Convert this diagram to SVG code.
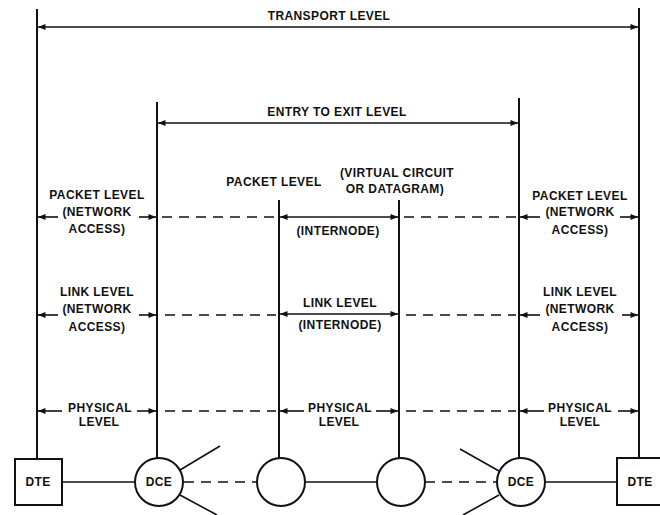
<svg xmlns="http://www.w3.org/2000/svg" width="660" height="515" viewBox="0 0 660 515">
<style>
text{font-family:"Liberation Sans",Arial,sans-serif;font-size:12px;letter-spacing:0.4px;font-weight:bold;fill:#111;text-anchor:middle}
.v{stroke:#111;stroke-width:2;fill:none}
.s{stroke:#111;stroke-width:1.6;fill:none}
.d{stroke:#111;stroke-width:1.6;fill:none;stroke-dasharray:10 7}
.node{stroke:#111;stroke-width:2;fill:#fff}
</style>
<defs>
<marker id="ah" viewBox="0 0 10 8" refX="10" refY="4" markerWidth="8" markerHeight="6" markerUnits="userSpaceOnUse" orient="auto-start-reverse">
<path d="M0,0 L10,4 L0,8 Z" fill="#111"/>
</marker>
</defs>
<rect width="660" height="515" fill="#fff"/>
<g id="connectors">
<line class="v" x1="37" y1="9" x2="37" y2="459"/>
<line class="v" x1="639" y1="8" x2="639" y2="458"/>
<line class="v" x1="157" y1="102" x2="157" y2="458"/>
<line class="v" x1="519" y1="98" x2="519" y2="458"/>
<line class="v" x1="279" y1="200" x2="279" y2="458"/>
<line class="v" x1="399" y1="200" x2="399" y2="458"/>
<line class="s" x1="38" y1="27" x2="638" y2="27" marker-start="url(#ah)" marker-end="url(#ah)"/>
<line class="s" x1="158" y1="123" x2="518" y2="123" marker-start="url(#ah)" marker-end="url(#ah)"/>
<line class="s" x1="38" y1="217" x2="58" y2="217" marker-start="url(#ah)"/>
<line class="s" x1="139" y1="217" x2="156" y2="217" marker-end="url(#ah)"/>
<line class="d" x1="162" y1="217" x2="276" y2="217"/>
<line class="s" x1="280" y1="217" x2="398" y2="217" marker-start="url(#ah)" marker-end="url(#ah)"/>
<line class="d" x1="404" y1="217" x2="516" y2="217"/>
<line class="s" x1="520" y1="217" x2="540" y2="217" marker-start="url(#ah)"/>
<line class="s" x1="620" y1="217" x2="638" y2="217" marker-end="url(#ah)"/>
<line class="s" x1="38" y1="315" x2="58" y2="315" marker-start="url(#ah)"/>
<line class="s" x1="139" y1="315" x2="156" y2="315" marker-end="url(#ah)"/>
<line class="d" x1="165" y1="315" x2="276" y2="315"/>
<line class="s" x1="280" y1="314" x2="398" y2="314" marker-start="url(#ah)" marker-end="url(#ah)"/>
<line class="d" x1="406" y1="315" x2="516" y2="315"/>
<line class="s" x1="520" y1="315" x2="540" y2="315" marker-start="url(#ah)"/>
<line class="s" x1="622" y1="315" x2="638" y2="315" marker-end="url(#ah)"/>
<line class="s" x1="38" y1="411" x2="62" y2="411" marker-start="url(#ah)"/>
<line class="s" x1="137" y1="411" x2="156" y2="411" marker-end="url(#ah)"/>
<line class="d" x1="165" y1="411" x2="276" y2="411"/>
<line class="s" x1="280" y1="411" x2="304" y2="411" marker-start="url(#ah)"/>
<line class="s" x1="376" y1="411" x2="398" y2="411" marker-end="url(#ah)"/>
<line class="d" x1="406" y1="411" x2="516" y2="411"/>
<line class="s" x1="520" y1="411" x2="544" y2="411" marker-start="url(#ah)"/>
<line class="s" x1="618" y1="411" x2="638" y2="411" marker-end="url(#ah)"/>
<line class="s" x1="62" y1="482" x2="135" y2="482"/>
<line class="d" x1="184" y1="482" x2="257" y2="482"/>
<line class="s" x1="305" y1="482" x2="377" y2="482"/>
<line class="d" x1="425" y1="482" x2="497" y2="482"/>
<line class="s" x1="545" y1="482" x2="617" y2="482"/>
<line class="s" x1="180" y1="470" x2="220" y2="446"/>
<line class="s" x1="180" y1="495" x2="217" y2="515"/>
<line class="s" x1="460" y1="449" x2="499" y2="471"/>
<line class="s" x1="463" y1="515" x2="499" y2="495"/>
</g>
<g id="labels">
<text x="329" y="20">TRANSPORT LEVEL</text>
<text x="337" y="116">ENTRY TO EXIT LEVEL</text>
<text x="97" y="199">PACKET LEVEL</text>
<text x="97" y="216">(NETWORK</text>
<text x="97" y="233">ACCESS)</text>
<text x="274" y="186">PACKET LEVEL</text>
<text x="397" y="177">(VIRTUAL CIRCUIT</text>
<text x="395" y="193">OR  DATAGRAM)</text>
<text x="338" y="235">(INTERNODE)</text>
<text x="580" y="200">PACKET LEVEL</text>
<text x="580" y="216">(NETWORK</text>
<text x="580" y="234">ACCESS)</text>
<text x="97" y="296">LINK LEVEL</text>
<text x="97" y="313">(NETWORK</text>
<text x="97" y="331">ACCESS)</text>
<text x="340" y="307">LINK LEVEL</text>
<text x="340" y="329">(INTERNODE)</text>
<text x="580" y="296">LINK LEVEL</text>
<text x="580" y="313">(NETWORK</text>
<text x="580" y="331">ACCESS)</text>
<text x="100" y="412">PHYSICAL</text>
<text x="99" y="426">LEVEL</text>
<text x="340" y="412">PHYSICAL</text>
<text x="339" y="426">LEVEL</text>
<text x="580" y="412">PHYSICAL</text>
<text x="580" y="426">LEVEL</text>
</g>
<g id="dte-left">
<rect class="node" x="15" y="459" width="47" height="46"/>
<text x="38" y="486">DTE</text>
</g>
<g id="dce-left">
<circle class="node" cx="159" cy="482" r="24"/>
<text x="159" y="486">DCE</text>
</g>
<g id="node-2">
<circle class="node" cx="281" cy="482" r="24"/>
</g>
<g id="node-3">
<circle class="node" cx="401" cy="482" r="24"/>
</g>
<g id="dce-right">
<circle class="node" cx="521" cy="482" r="24"/>
<text x="521" y="486">DCE</text>
</g>
<g id="dte-right">
<rect class="node" x="617" y="458" width="45" height="47"/>
<text x="640" y="486">DTE</text>
</g>
</svg>
